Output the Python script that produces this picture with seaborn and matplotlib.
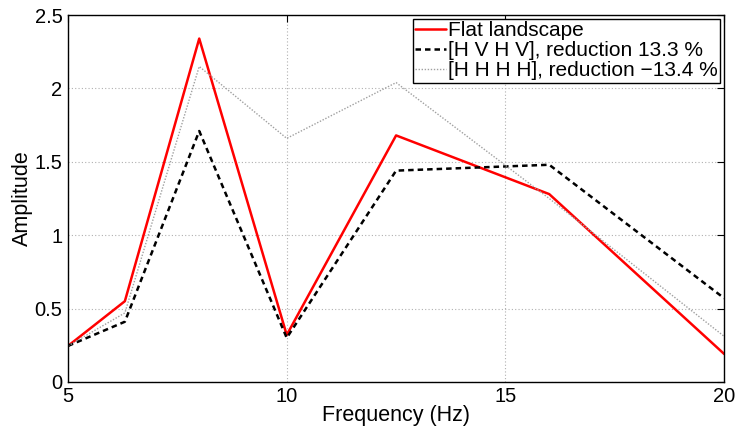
import matplotlib
matplotlib.use("Agg")
import pandas as pd
import seaborn as sns
from matplotlib import pyplot as plt

freq = [5, 6.3, 8, 10, 12.5, 16, 20]
flat = [0.245, 0.55, 2.34, 0.32, 1.68, 1.28, 0.19]
hvhv = [0.245, 0.41, 1.71, 0.30, 1.44, 1.48, 0.57]
hhhh = [0.245, 0.47, 2.15, 1.66, 2.04, 1.25, 0.31]

labels = ["Flat landscape", "[H V H V], reduction 13.3 %", "[H H H H], reduction \u221213.4 %"]

df = pd.DataFrame({
    "freq": freq * 3,
    "amp": flat + hvhv + hhhh,
    "case": [labels[0]] * 7 + [labels[1]] * 7 + [labels[2]] * 7,
})

sns.set_style("white")
plt.rcParams["font.family"] = ["Liberation Sans", "DejaVu Sans"]
plt.rcParams["font.size"] = 14
plt.rcParams["text.color"] = "black"
plt.rcParams["axes.labelcolor"] = "black"

fig = plt.figure(figsize=(7.39, 4.32), dpi=100)
ax = fig.add_axes([0.092, 0.116, 0.888, 0.849])

palette = {labels[0]: "#ff0000", labels[1]: "black", labels[2]: "#a0a0a0"}
sizes = {labels[0]: 1.8, labels[1]: 1.8, labels[2]: 1.0}
dashes = {labels[0]: "", labels[1]: (2.2, 1.6), labels[2]: (1, 1.2)}

sns.lineplot(data=df, x="freq", y="amp", hue="case", style="case", size="case",
             palette=palette, sizes=sizes, dashes=dashes, ax=ax, legend=False)

ax.set_xlim(5, 20)
ax.set_ylim(0, 2.5)
ax.set_xticks([5, 10, 15, 20])
ax.set_yticks([0, 0.5, 1, 1.5, 2, 2.5])
ax.set_yticklabels(["0", "0.5", "1", "1.5", "2", "2.5"])
ax.set_xlabel("Frequency (Hz)", labelpad=-1, fontsize=15.5, color="black")
ax.set_ylabel("Amplitude", labelpad=1, fontsize=15.5, color="black")
ax.grid(True, color="#b0b0b0", linestyle=(0, (1, 2)), linewidth=0.8)
ax.tick_params(direction="in", length=5, width=0.8, top=True, right=True,
               labelsize=14.5, pad=4, colors="black")
for s in ax.spines.values():
    s.set_color("black")
    s.set_linewidth(1.0)

handles = ax.get_lines()[:3]
leg = ax.legend(handles, labels, loc="upper right", fontsize=15, frameon=True,
                fancybox=False, edgecolor="black", framealpha=1, handlelength=1.5,
                handletextpad=0.1, borderpad=0.1, labelspacing=0.05,
                borderaxespad=0.2)
leg.get_frame().set_linewidth(1.0)
for t in leg.get_texts():
    t.set_color("black")

fig.savefig("out.png", dpi=100)
